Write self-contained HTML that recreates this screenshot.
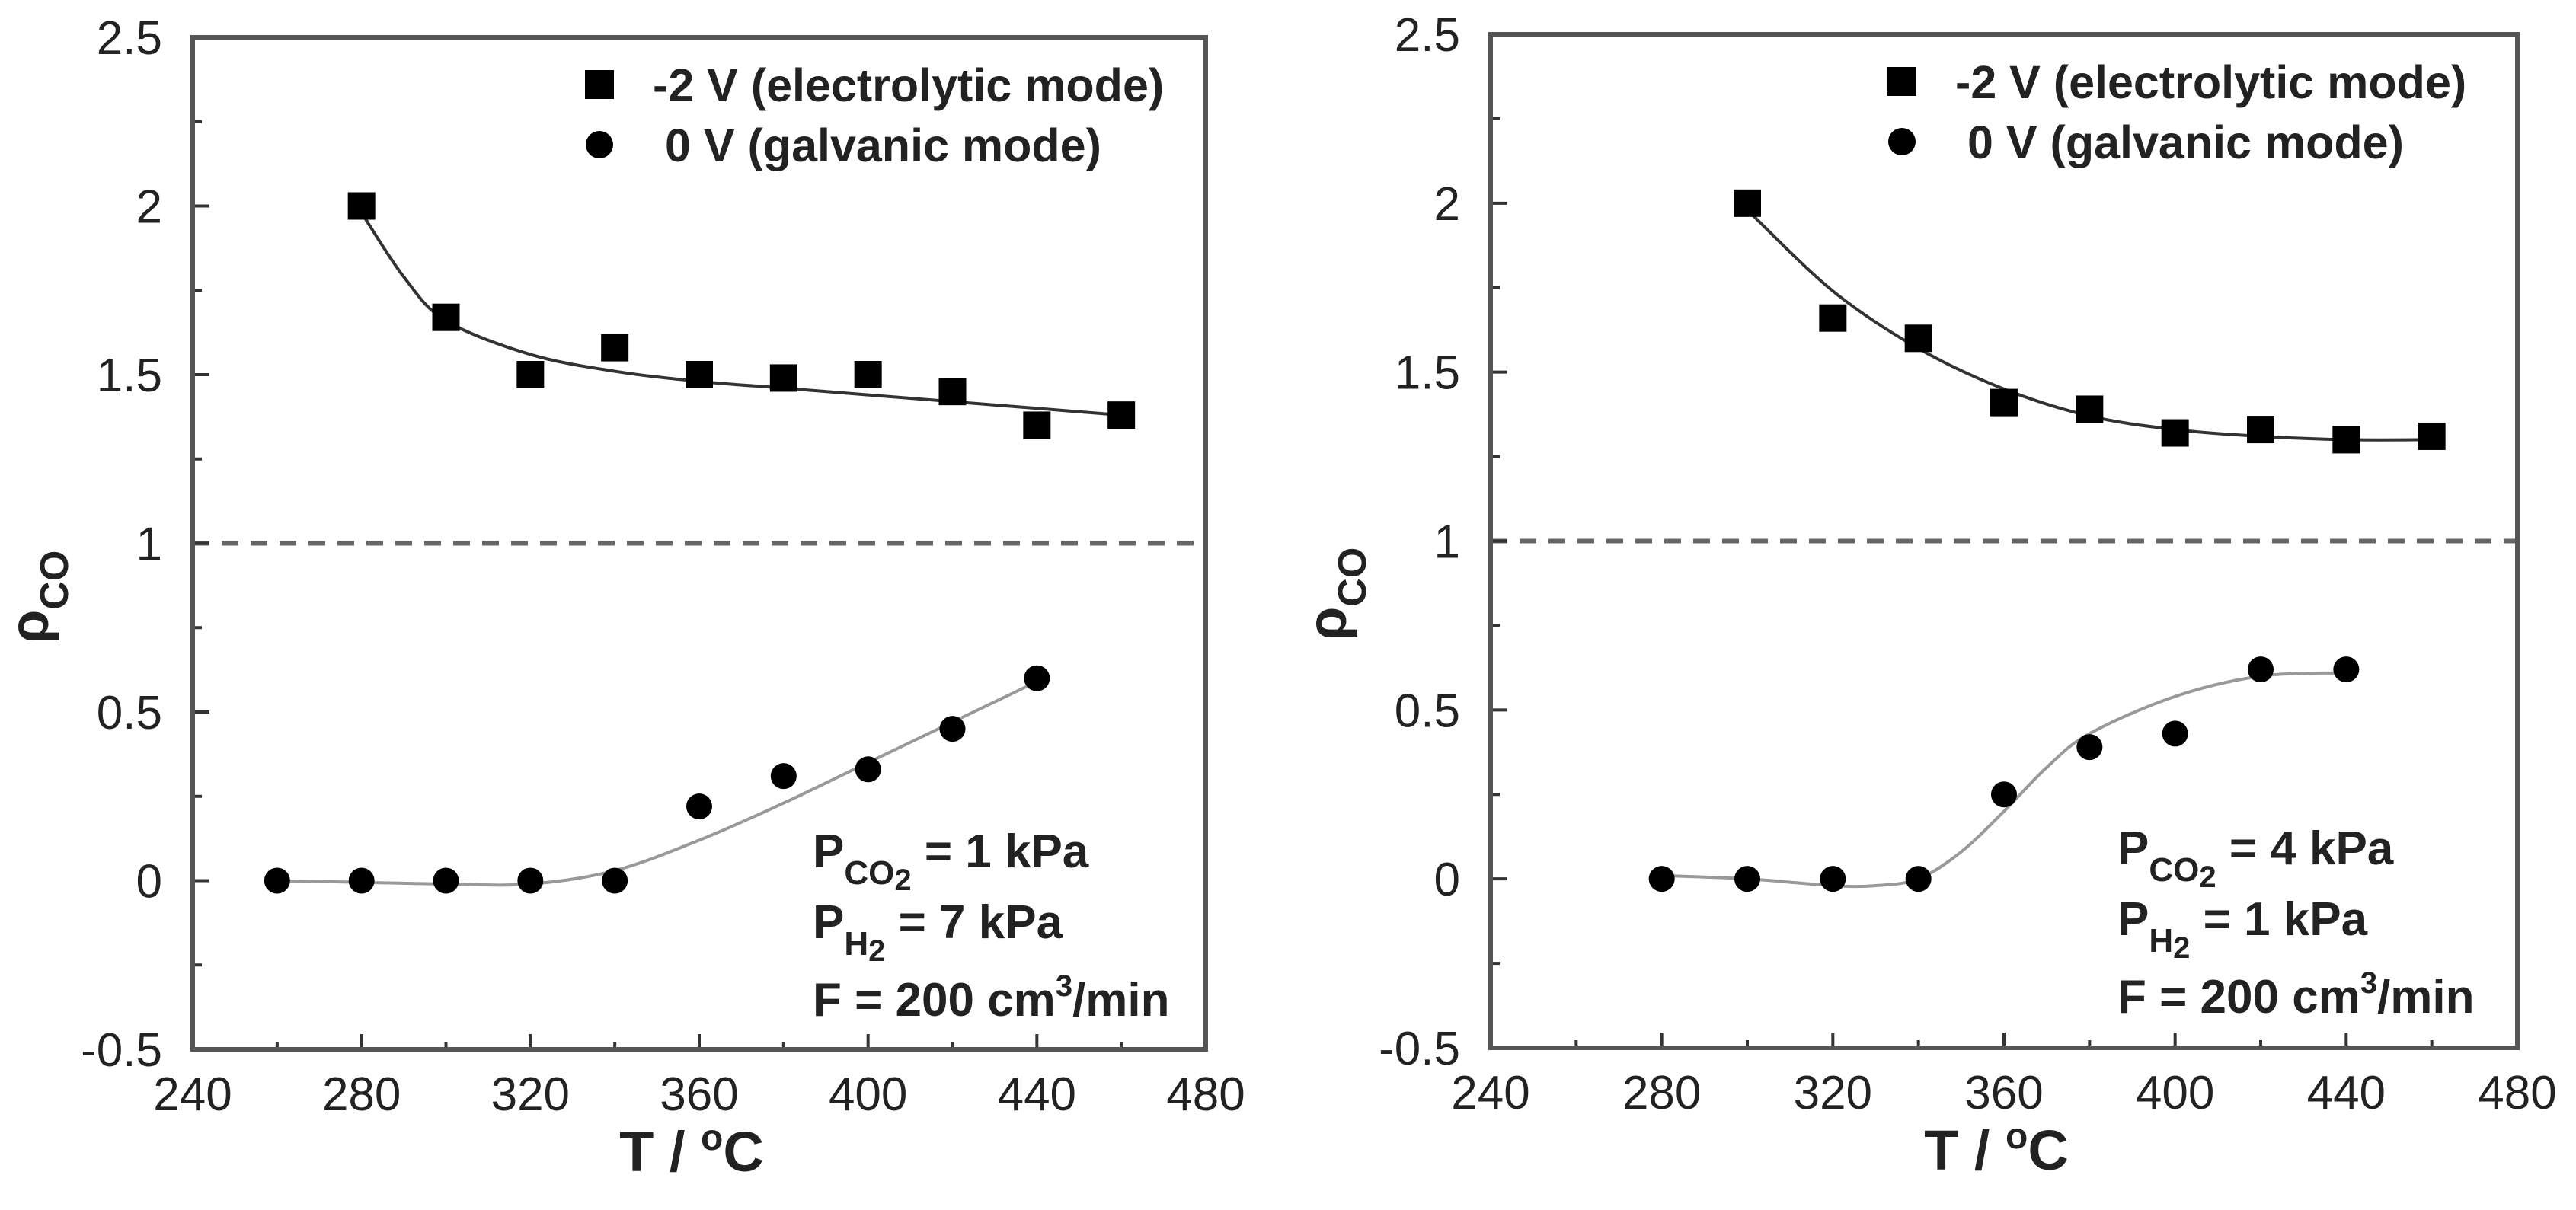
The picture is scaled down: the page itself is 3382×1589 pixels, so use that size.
<!DOCTYPE html>
<html><head><meta charset="utf-8">
<style>
html,body{margin:0;padding:0;background:#fff;}
svg{display:block;}
text{font-family:"Liberation Sans",Arial,sans-serif;fill:#222;}
</style></head>
<body>
<svg id="fig" width="3382" height="1589" viewBox="0 0 3382 1589" xmlns="http://www.w3.org/2000/svg"></svg>
<script>
// ---- data (shared ticks) ----
const xTicks = [240, 280, 320, 360, 400, 440, 480];
const yTicks = [-0.5, 0, 0.5, 1, 1.5, 2, 2.5];
const yTickLabels = ["-0.5", "0", "0.5", "1", "1.5", "2", "2.5"];
// ---- left panel data ----
const leftSqX = [280, 300, 320, 340, 360, 380, 400, 420, 440, 460];
const leftSqY = [2.0, 1.67, 1.5, 1.58, 1.5, 1.49, 1.5, 1.45, 1.35, 1.38];
const leftCiX = [260, 280, 300, 320, 340, 360, 380, 400, 420, 440];
const leftCiY = [0, 0, 0, 0, 0, 0.22, 0.31, 0.33, 0.45, 0.6];
const leftSqFitX = [280, 290, 300, 320, 340, 360, 380, 400, 420, 440, 460];
const leftSqFitY = [1.98, 1.79, 1.66, 1.56, 1.51, 1.48, 1.46, 1.44, 1.42, 1.4, 1.38];
const leftCiFitX = [260, 280, 300, 320, 340, 360, 380, 400, 420, 440];
const leftCiFitY = [0.0, -0.005, -0.01, -0.01, 0.03, 0.12, 0.23, 0.35, 0.47, 0.59];
// ---- right panel data ----
const rightSqX = [300, 320, 340, 360, 380, 400, 420, 440, 460];
const rightSqY = [2.0, 1.66, 1.6, 1.41, 1.39, 1.32, 1.33, 1.3, 1.31];
const rightCiX = [280, 300, 320, 340, 360, 380, 400, 420, 440];
const rightCiY = [0, 0, 0, 0, 0.25, 0.39, 0.43, 0.62, 0.62];
const rightSqFitX = [300, 320, 340, 360, 380, 400, 420, 440, 460];
const rightSqFitY = [1.98, 1.74, 1.57, 1.45, 1.37, 1.33, 1.31, 1.3, 1.3];
const rightCiFitX = [280, 300, 320, 330, 340, 350, 360, 370, 380, 400, 420, 440];
const rightCiFitY = [0.01, 0.0, -0.02, -0.02, 0.0, 0.08, 0.2, 0.33, 0.43, 0.54, 0.6, 0.61];

const NS = "http://www.w3.org/2000/svg";
const svg = document.getElementById("fig");
function mk(tag, attrs, parent, txt){
  const e = document.createElementNS(NS, tag);
  for (const k in attrs) e.setAttribute(k, attrs[k]);
  if (txt !== undefined) e.textContent = txt;
  (parent || svg).appendChild(e);
  return e;
}
function smoothPath(pts){
  let d = "M" + pts[0][0] + "," + pts[0][1];
  for (let i = 0; i < pts.length - 1; i++){
    const p0 = pts[i-1] || pts[i], p1 = pts[i], p2 = pts[i+1], p3 = pts[i+2] || p2;
    const c1x = p1[0] + (p2[0]-p0[0])/6, c1y = p1[1] + (p2[1]-p0[1])/6;
    const c2x = p2[0] - (p3[0]-p1[0])/6, c2y = p2[1] - (p3[1]-p1[1])/6;
    d += " C" + c1x + "," + c1y + " " + c2x + "," + c2y + " " + p2[0] + "," + p2[1];
  }
  return d;
}

function panel(cfg){
  const g = mk("g", {});
  
  
  const X = v => cfg.x0 + (v - 240) / 240 * (cfg.x1 - cfg.x0);
  const Y = v => cfg.y1 - (v + 0.5) / 3 * (cfg.y1 - cfg.y0);

  const ref = mk("line", {x1: X(240), x2: X(480), y1: Y(1), y2: Y(1), stroke: "#666", "stroke-width": 6, "stroke-dasharray": "22 16"}, g);
  
  

  for (let v = 240; v <= 480; v += 20){
    const major = (v % 40 === 0);
    const t = mk("line", {x1: X(v), x2: X(v), y1: cfg.y1, y2: cfg.y1 - (major ? 20 : 10), stroke: "#333", "stroke-width": 4}, g);
    
    
  }
  for (let k = 0; k <= 12; k++){
    const v = -0.5 + k * 0.25;
    const major = (k % 2 === 0);
    const t = mk("line", {x1: cfg.x0, x2: cfg.x0 + (major ? 22 : 12), y1: Y(v), y2: Y(v), stroke: "#333", "stroke-width": 4}, g);
    
    
  }
  const box = mk("rect", {x: cfg.x0, y: cfg.y0, width: cfg.x1 - cfg.x0, height: cfg.y1 - cfg.y0, fill: "none", stroke: "#555", "stroke-width": 6}, g);
  
  

  xTicks.forEach(v => {
    const t = mk("text", {x: X(v), y: cfg.y1 + 80, "font-size": 62, "text-anchor": "middle"}, g, String(v));
    
    
  });
  yTicks.forEach((v, i) => {
    const t = mk("text", {x: cfg.x0 - 40, y: Y(v) + 22, "font-size": 62, "text-anchor": "end"}, g, yTickLabels[i]);
    
    
  });

  const xt = mk("text", {x: (cfg.x0 + cfg.x1) / 2 - 10, y: cfg.y1 + 160, "font-size": 74, "font-weight": "bold", "text-anchor": "middle"}, g);
  
  
  mk("tspan", {}, xt, "T / ");
  mk("tspan", {"font-size": 48, dy: -28}, xt, "o");
  mk("tspan", {dy: 28}, xt, "C");

  const yt = mk("text", {transform: "translate(" + (cfg.x0 - 190) + "," + (cfg.y0 + 735) + ") rotate(-90)", "font-size": 72, "font-weight": "bold", "text-anchor": "middle"}, g);
  
  
  mk("tspan", {}, yt, "ρ");
  mk("tspan", {"font-size": 52, dy: 26}, yt, "CO");

  const sqFit = mk("path", {d: smoothPath(cfg.sqFitX.map((v, i) => [X(v), Y(cfg.sqFitY[i])])), fill: "none", stroke: "#333", "stroke-width": 4}, g);
  
  
  const ciFit = mk("path", {d: smoothPath(cfg.ciFitX.map((v, i) => [X(v), Y(cfg.ciFitY[i])])), fill: "none", stroke: "#999", "stroke-width": 4}, g);
  
  

  cfg.sqX.forEach((v, i) => {
    const s = mk("rect", {x: X(v) - 18, y: Y(cfg.sqY[i]) - 18, width: 36, height: 36, fill: "#000"}, g);
    
    
  });
  cfg.ciX.forEach((v, i) => {
    const c = mk("circle", {cx: X(v), cy: Y(cfg.ciY[i]), r: 17, fill: "#000"}, g);
    
    
  });

  const lg = mk("g", {}, g);
  
  
  const lx = cfg.x0 + cfg.legDx;
  const ls = mk("rect", {x: lx - 19, y: cfg.y0 + 43, width: 38, height: 38, fill: "#000"}, lg);
  
  
  const lt1 = mk("text", {x: lx + 70, y: cfg.y0 + 84, "font-size": 61, "font-weight": "bold"}, lg, "-2 V (electrolytic mode)");
  
  
  const lc = mk("circle", {cx: lx, cy: cfg.y0 + 141, r: 18, fill: "#000"}, lg);
  
  
  const lt2 = mk("text", {x: lx + 86, y: cfg.y0 + 163, "font-size": 61, "font-weight": "bold"}, lg, "0 V (galvanic mode)");
  
  

  const ax = cfg.x0 + cfg.annDx;
  const a1 = mk("text", {x: ax, y: cfg.y0 + 1090, "font-size": 62, "font-weight": "bold"}, g);
  
  
  mk("tspan", {}, a1, "P");
  mk("tspan", {"font-size": 44, dy: 22}, a1, "CO");
  mk("tspan", {"font-size": 40, dy: 8}, a1, "2");
  mk("tspan", {dy: -30}, a1, " = " + cfg.pco2);
  const a2 = mk("text", {x: ax, y: cfg.y0 + 1183, "font-size": 62, "font-weight": "bold"}, g);
  
  
  mk("tspan", {}, a2, "P");
  mk("tspan", {"font-size": 44, dy: 22}, a2, "H");
  mk("tspan", {"font-size": 40, dy: 8}, a2, "2");
  mk("tspan", {dy: -30}, a2, " = " + cfg.ph2);
  const a3 = mk("text", {x: ax, y: cfg.y0 + 1285, "font-size": 62, "font-weight": "bold"}, g);
  
  
  mk("tspan", {}, a3, "F = 200 cm");
  mk("tspan", {"font-size": 40, dy: -26}, a3, "3");
  mk("tspan", {dy: 26}, a3, "/min");
}

panel({name: "left-panel", x0: 253, x1: 1583, y0: 49, y1: 1378, legDx: 534, annDx: 814,
  pco2: "1 kPa", ph2: "7 kPa",
  sqX: leftSqX, sqY: leftSqY, ciX: leftCiX, ciY: leftCiY,
  sqFitX: leftSqFitX, sqFitY: leftSqFitY, ciFitX: leftCiFitX, ciFitY: leftCiFitY});
panel({name: "right-panel", x0: 1957, x1: 3305, y0: 45, y1: 1376, legDx: 540, annDx: 823,
  pco2: "4 kPa", ph2: "1 kPa",
  sqX: rightSqX, sqY: rightSqY, ciX: rightCiX, ciY: rightCiY,
  sqFitX: rightSqFitX, sqFitY: rightSqFitY, ciFitX: rightCiFitX, ciFitY: rightCiFitY});
</script>
</body></html>
